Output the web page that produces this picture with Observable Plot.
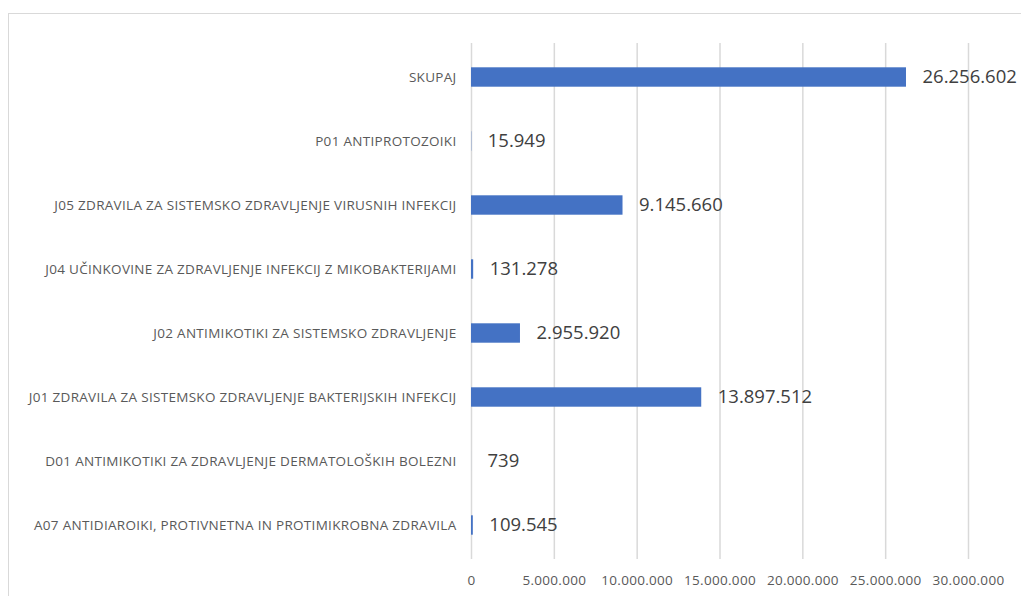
<!DOCTYPE html>
<html>
<head>
<meta charset="utf-8">
<script src="https://cdn.jsdelivr.net/npm/d3@7"></script>
<script src="https://cdn.jsdelivr.net/npm/@observablehq/plot@0.6"></script>
<style>
  html, body { margin: 0; padding: 0; background: #fff; overflow: hidden; }
  #wrap { position: relative; width: 1021px; height: 596px; }
  #frame { position: absolute; left: 8px; top: 13px; width: 1040px; height: 620px; border: 1.5px solid #d9d9d9; box-sizing: border-box; }
  #chart { position: absolute; left: 0; top: 0; }
  #chart g[aria-label="y-axis tick label"] text { letter-spacing: 0.3px; }
  #chart g[aria-label="x-axis tick label"] text { letter-spacing: 0.3px; }
</style>
</head>
<body>
<div id="wrap"><div id="frame"></div><div id="chart"></div></div>
<script>
const categories = [
  "SKUPAJ",
  "P01 ANTIPROTOZOIKI",
  "J05 ZDRAVILA ZA SISTEMSKO ZDRAVLJENJE VIRUSNIH INFEKCIJ",
  "J04 UČINKOVINE ZA ZDRAVLJENJE INFEKCIJ Z MIKOBAKTERIJAMI",
  "J02 ANTIMIKOTIKI ZA SISTEMSKO ZDRAVLJENJE",
  "J01 ZDRAVILA ZA SISTEMSKO ZDRAVLJENJE BAKTERIJSKIH INFEKCIJ",
  "D01 ANTIMIKOTIKI ZA ZDRAVLJENJE DERMATOLOŠKIH BOLEZNI",
  "A07 ANTIDIAROIKI, PROTIVNETNA IN PROTIMIKROBNA ZDRAVILA"
];
const values = [26256602, 15949, 9145660, 131278, 2955920, 13897512, 739, 109545];
const xTicks = [0, 5000000, 10000000, 15000000, 20000000, 25000000, 30000000];

const locale = d3.formatLocale({decimal: ",", thousands: ".", grouping: [3], currency: ["", ""]});
const fmt = locale.format(",d");

const data = categories.map((c, i) => ({category: c, value: values[i]}));

const font = "Open Sans, Liberation Sans, sans-serif";

const chart = Plot.plot({
  width: 1021,
  height: 596,
  marginLeft: 471,
  marginRight: 53,
  marginTop: 43,
  marginBottom: 37,
  style: {fontFamily: font, background: "transparent"},
  x: {domain: [0, 30000000], ticks: xTicks, tickFormat: fmt},
  y: {domain: categories, padding: 0},
  marks: [
    Plot.gridX(xTicks, {stroke: "#d9d9d9", strokeOpacity: 1, strokeWidth: 1.5}),
    Plot.barX(data, {x: "value", y: "category", fill: "#4472C4", insetTop: 22.3, insetBottom: 22.3}),
    Plot.text(data, {x: "value", y: "category", text: d => fmt(d.value), textAnchor: "start", dx: 16, fontSize: 18.5, fill: "#404040"}),
    Plot.axisY({tickSize: 0, tickPadding: 15, fontSize: 13.5, color: "#595959", label: null}),
    Plot.axisX(xTicks, {tickSize: 0, tickPadding: 16, fontSize: 13.5, color: "#595959", label: null, tickFormat: fmt})
  ]
});
document.getElementById("chart").appendChild(chart);
</script>
</body>
</html>
